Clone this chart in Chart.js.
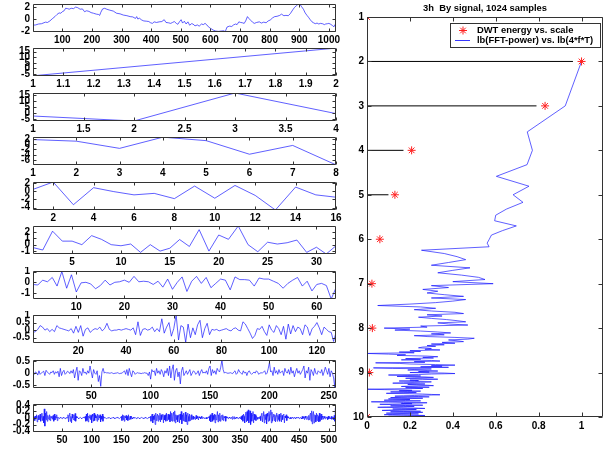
<!DOCTYPE html>
<html>
<head>
<meta charset="utf-8">
<script src="https://cdn.jsdelivr.net/npm/chart.js@4/dist/chart.umd.min.js"></script>
<style>
body { margin: 0; background: #fff; }
#fig { position: relative; width: 611px; height: 450px; overflow: hidden; }
#fig div { position: absolute; }
</style>
</head>
<body>
<div id="fig"></div>
<script>
// signal, 1024 samples (x, value)
let sig1 = [[1,-1.0],[10,-0.95],[20,-0.8],[30,-0.75],[43,-0.5],[50,-0.55],[58,-0.3],[66,0.05],[75,0.4],[82,0.75],
  [89,1.0],[95,0.95],[100,1.2],[106,1.35],[111,1.75],[118,1.7],[123,1.6],[130,1.75],[138,1.7],[145,1.95],
  [152,1.85],[160,1.6],[168,1.65],[175,1.2],[182,1.35],[190,1.25],[197,1.05],[205,0.95],[215,0.8],[222,0.75],
  [226,0.6],[230,1.1],[236,1.65],[243,1.75],[250,1.6],[260,1.45],[272,1.3],[283,0.95],[295,0.85],[306,0.65],
  [318,0.55],[329,0.4],[338,0.35],[347,0.1],[351,0.4],[355,0.0],[360,0.15],[368,-0.15],[375,-0.3],[385,-0.35],
  [392,-0.4],[398,-0.6],[404,-0.7],[410,-0.45],[418,-0.55],[427,-0.45],[436,-0.4],[444,-0.1],[450,-0.55],[458,-0.6],
  [466,-0.7],[472,-0.55],[478,-0.4],[485,-0.7],[490,-0.85],[496,-0.4],[501,-0.1],[506,-0.65],[512,-0.35],[518,-0.8],
  [524,-0.45],[530,-1.0],[536,-0.75],[541,-0.8],[548,-1.1],[556,-0.95],[562,-1.15],[570,-0.8],[576,-0.9],[582,-0.7],
  [588,-0.95],[593,-1.25],[600,-1.5],[610,-1.8],[618,-1.95],[627,-2.0],[636,-1.95],[645,-1.9],[650,-2.05],[656,-1.3],
  [664,-1.15],[672,-1.2],[678,-0.95],[685,-0.8],[690,-0.9],[696,-0.45],[702,-0.55],[708,-0.6],[714,-0.7],[719,-0.3],
  [725,0.4],[730,0.1],[736,-0.2],[742,-0.5],[748,-0.7],[756,-0.55],[765,-0.45],[772,-0.65],[780,-0.5],[788,-0.6],
  [795,-0.3],[802,-0.15],[810,0.2],[817,0.4],[825,0.45],[834,0.6],[840,0.8],[848,0.55],[855,0.6],[863,0.55],
  [870,0.9],[878,1.5],[884,1.9],[891,2.2],[897,2.45],[903,2.35],[908,2.0],[914,1.6],[920,1.0],[926,0.6],
  [931,0.3],[937,-0.1],[943,-0.45],[948,-0.6],[954,-0.75],[960,-0.65],[966,-0.8],[971,-0.7],[978,-0.75],[985,-0.9],
  [989,-0.8],[995,-0.75],[1000,-0.7],[1006,-0.85],[1012,-1.05],[1017,-1.25],[1021,-0.9],[1024,-1.3]];

// DWT coefficients per scale
let sig2 = [-6.6, 18.2];
let sig3 = [-2.3, -6.4, 16.7, -0.3];
let sig4 = [1.7, 1.1, -1.6, 2.6, 1.3, -3.8, -0.5, -7.8];
let sig5 = [0.48, 2.3, -3.3, 0.9, -0.07, -0.87, -0.5, -1.8, 1.3, -1.7, 1.45, -1.0, -4.6, 1.05, -0.87, -1.45];
let sig6 = [-0.45,-0.83,2.1,0.55,0.55,0.0,1.4,0.83,0.0,-0.17,0.1,-1.2,0.0,-1.0,-0.55,0.8,
  -0.28,2.33,-1.0,1.5,0.83,2.9,0.0,-1.1,0.38,0.1,0.3,0.72,-1.2,-0.4,-1.45,-0.17];
let sig7 = [-0.2,-0.25,0.2,0.05,0.45,-0.35,1.0,-0.55,0.7,-0.9,-0.05,0.0,-0.15,-0.6,-0.3,0.2,
  -0.25,0.0,0.05,0.2,0.0,0.55,0.05,0.1,0.05,-0.2,0.1,-0.45,0.3,-0.65,0.0,0.5,
  -0.85,0.1,0.55,-0.1,0.45,-0.5,-0.1,0.3,0.2,-0.7,0.5,0.25,0.25,0.2,-0.35,0.4,
  0.3,0.3,0.1,-0.1,-0.55,-0.1,0.2,0.45,-0.35,0.1,-0.8,-0.2,-0.1,-0.3,-1.55,-0.5];
let sig8 = [-0.15,-0.1,0.05,0.3,0.2,0.0,0.1,-0.1,0.05,-0.1,0.3,0.15,0.1,0.05,0.0,-0.05,
  0.1,-0.2,0.25,-0.15,0.3,-0.4,0.05,0.15,-0.15,0.0,0.1,0.05,0.2,-0.05,0.1,0.45,
  0.05,-0.05,0.0,0.0,0.05,0.0,0.05,0.1,0.05,0.0,0.15,-0.3,0.55,-0.35,0.05,0.1,
  0.0,0.05,0.2,-0.1,0.1,-0.1,0.75,-0.2,0.2,0.5,-0.4,0.1,1.0,-0.65,0.3,0.2,
  -0.8,0.4,-0.5,0.15,-0.3,0.35,0.65,-0.5,0.1,0.45,-0.3,0.05,0.0,0.05,-0.05,0.0,
  0.05,0.1,0.0,-0.05,0.1,0.15,0.0,-0.05,0.55,0.4,0.1,-0.2,-0.55,-0.35,0.1,0.05,
  0.25,-0.1,-0.35,0.35,0.0,-0.15,0.3,0.1,-0.3,0.25,-0.6,0.4,-0.25,0.3,-0.1,0.2,
  0.1,-0.3,0.35,0.2,-0.35,0.1,0.25,0.5,0.15,-0.3,0.2,0.05,-0.1,-0.15,-0.75,-0.15];
let sig9 = [0.0,-0.05,0.05,0.02,-0.08,0.1,-0.05,0.0,0.05,0.08,-0.1,0.12,0.05,0.0,-0.05,0.05,
  0.02,0.1,-0.05,0.06,0.0,0.08,-0.15,0.2,-0.1,0.05,0.12,-0.05,0.0,0.08,0.05,-0.02,
  0.1,0.0,0.15,-0.2,0.05,0.25,-0.3,0.1,0.05,-0.1,0.2,0.0,0.05,-0.05,0.1,0.0,
  0.3,0.05,-0.2,0.15,0.0,-0.05,0.1,-0.35,-0.1,-0.55,0.05,0.2,0.0,0.05,0.0,0.02,
  0.0,0.0,0.02,0.0,-0.02,0.0,0.0,0.02,0.0,-0.02,0.0,0.0,0.05,0.1,-0.05,0.15,
  -0.1,0.2,0.0,-0.15,0.1,0.05,-0.05,0.0,0.02,0.0,0.0,-0.02,0.0,0.0,0.02,0.0,
  0.0,-0.1,0.05,-0.25,0.15,0.05,0.1,-0.1,0.2,0.0,0.1,-0.05,0.15,0.05,-0.15,0.1,
  0.0,0.2,-0.1,0.3,-0.2,0.15,0.35,-0.3,0.1,0.2,-0.15,0.05,-0.45,0.1,0.25,-0.1,
  0.0,0.1,-0.05,0.05,0.15,-0.1,0.0,0.1,0.05,-0.05,0.0,0.1,-0.1,0.05,0.15,0.0,
  0.05,0.0,0.1,-0.05,0.2,0.3,-0.1,0.15,0.0,0.1,-0.05,0.2,0.1,0.05,0.25,0.55,
  0.15,0.0,0.05,0.0,0.0,0.0,0.02,0.0,-0.02,0.05,0.1,-0.05,0.0,0.15,0.05,0.0,
  -0.05,0.1,0.0,0.05,-0.1,0.05,0.1,0.0,-0.05,0.0,0.05,0.0,0.1,0.05,-0.05,0.0,
  0.02,0.0,0.05,0.1,-0.05,0.0,0.2,0.45,0.05,0.1,-0.1,0.25,0.0,0.1,-0.05,0.15,
  0.0,0.05,0.1,-0.1,0.2,0.05,0.0,0.15,-0.05,0.25,0.0,0.1,-0.15,0.05,0.2,0.0,
  0.1,-0.05,0.05,0.15,0.3,-0.2,0.1,0.0,0.25,-0.3,0.15,0.05,-0.1,0.2,0.0,-0.05,
  0.1,0.05,0.0,0.15,-0.1,0.05,0.25,0.1,-0.05,0.2,-0.15,0.1,0.0,-0.2,-0.6,0.5];
let sig10 = [0,-.05,.04,-.08,.06,0,.1,-.12,.05,.08,-.06,0,.12,-.1,.04,.15,-.08,.05,-.15,.28,-.25,.15,-.05,.2,-.1,.08,0,-.05,.1,-.08,.05,0,
  .06,-.04,.08,-.1,.12,-.06,.05,0,.1,-.08,.03,0,-.02,0,.02,0,0,-.02,0,.02,0,0,-.02,0,0,.02,0,.1,-.12,.08,.15,-.1,
  .05,-.15,.12,0,-.05,.1,-.08,.14,-.1,.05,0,.02,0,-.02,0,0,.02,0,-.02,0,0,.02,0,0,.05,-.1,.12,-.08,.15,-.12,.06,0,
  .1,-.05,.08,-.15,.12,.05,-.1,.15,-.08,.1,0,.05,-.1,.12,-.05,.08,0,.1,-.12,.06,-.04,.12,-.1,.05,0,.02,0,0,-.02,0,0,0,
  .02,0,0,-.02,0,0,0,.02,0,0,-.02,0,0,0,.02,0,0,0,-.02,0,0,.05,-.08,.1,-.05,.08,-.1,.06,0,.08,-.06,.05,
  -.08,.1,-.05,0,.06,-.04,.05,0,-.03,.02,0,0,.02,0,-.02,0,0,.02,0,0,-.02,0,0,.02,0,0,0,-.02,0,.02,0,0,
  0,-.02,0,.02,0,0,.05,-.1,.08,.12,-.15,.06,-.05,.1,-.2,.15,-.08,.05,.12,-.1,.08,-.05,.15,-.12,.1,-.05,.06,.12,-.15,.08,-.06,.1,
  -.1,.15,-.08,.05,.12,-.05,.1,-.12,.2,-.08,.15,-.1,.05,.18,-.1,.22,-.15,.1,-.05,.08,-.12,.06,.1,-.15,.12,-.05,.2,-.18,.1,-.08,.15,-.1,
  .05,.18,-.12,.1,-.2,.15,.05,-.1,.12,-.08,.05,.1,-.05,0,.06,-.04,.02,0,-.05,.08,-.03,.05,0,-.06,.04,0,.02,-.03,.05,0,-.02,0,
  .02,0,-.02,0,.02,-.03,0,.02,0,.05,-.08,.1,-.12,.06,.15,-.1,.08,-.05,.12,-.15,.1,-.06,.05,.2,-.12,.1,-.08,.15,-.1,.05,.08,-.05,
  .1,-.08,.05,0,.06,-.1,.04,0,.02,-.02,0,.03,0,-.02,0,.02,-.04,.05,0,-.03,.04,0,-.02,.03,0,0,-.02,0,.02,0,-.03,.05,
  -.05,.08,-.1,.12,.05,-.15,.1,.18,-.12,.2,-.08,.25,-.15,.1,.22,-.2,.15,-.1,.08,.2,-.15,.12,-.05,.1,-.08,.05,.02,-.04,0,.03,-.02,.05,
  -.08,.1,.15,-.12,.08,.2,-.15,.1,-.05,.12,-.18,.15,.05,-.1,.2,-.08,.12,.25,-.15,.18,-.1,.05,.12,-.08,.1,-.12,.06,.15,-.1,.08,-.05,.12,
  -.1,.05,.15,-.12,.08,-.05,.1,.12,-.15,.06,0,.1,-.08,.05,0,.03,-.02,0,.02,-.03,0,.02,0,-.02,0,.03,0,-.02,.02,0,0,.02,
  0,-.02,0,.02,0,-.03,.05,-.02,.04,0,-.05,.06,0,-.04,.05,.02,-.06,.08,-.05,.1,.15,-.1,.22,-.18,.12,.2,-.15,.1,.08,-.12,.15,-.08,
  .1,.05,-.12,.15,-.1,.08,.12,-.05,.06,.02,-.04,.05,0,-.03,.04,0,.02,-.05,.06,-.03,.04,0,-.02,.05,-.04,.03,.02,-.05,.08,-.1,.3,-.35];

// tick labels of the small panels
let xTicks = [
  [100,200,300,400,500,600,700,800,900,1000],
  [1,1.1,1.2,1.3,1.4,1.5,1.6,1.7,1.8,1.9,2],
  [1,1.5,2,2.5,3,3.5,4],
  [1,2,3,4,5,6,7,8],
  [2,4,6,8,10,12,14,16],
  [5,10,15,20,25,30],
  [10,20,30,40,50,60],
  [20,40,60,80,100,120],
  [50,100,150,200,250],
  [50,100,150,200,250,300,350,400,450,500]
];
let yTicks = [
  [-2,0,2], [-5,0,5,10,15], [-5,0,5,10,15], [-6,-4,-2,0,2], [-4,-2,0,2],
  [-1,0,1,2], [-1,0,1], [-0.5,0,0.5,1], [-0.5,0,0.5], [-0.4,-0.2,0,0.2,0.4]
];
let yLims = [
  [-2.1,2.45], [-6.8,18.3], [-6.4,16.7], [-7.85,2.67], [-4.6,2.3],
  [-1.45,2.9], [-1.55,1.05], [-0.85,1.0], [-0.62,0.55], [-0.43,0.43]
];

// right panel: DWT energy per scale and FFT power per frequency bin
let dwtEnergy = [0, 1, 0.83, 0.208, 0.13, 0.06, 0.023, 0.025, 0.011, 0];
let stemLen = [0, 0.96, 0.79, 0.17, 0.1, 0, 0, 0, 0, 0];
let fftPower = [1.00,0.924,0.747,0.771,0.746,0.603,0.755,0.681,0.727,0.65,0.60,0.595,0.696,0.631,0.58,0.57,
  0.56,0.569,0.254,0.36,0.42,0.46,0.38,0.30,0.48,0.40,0.33,0.44,0.52,0.55,0.40,0.588,
  0.30,0.38,0.26,0.33,0.28,0.36,0.45,0.30,0.46,0.40,0.32,0.20,0.05,0.25,0.32,0.22,
  0.30,0.41,0.45,0.28,0.35,0.24,0.30,0.37,0.42,0.46,0.33,0.38,0.47,0.25,0.28,0.08,
  0.20,0.13,0.25,0.33,0.39,0.30,0.36,0.22,0.28,0.41,0.50,0.47,0.38,0.42,0.45,0.35,
  0.41,0.30,0.36,0.28,0.32,0.26,0.24,0.30,0.27,0.34,0.20,0.25,0.15,0.22,0.00,0.10,
  0.18,0.14,0.28,0.33,0.26,0.31,0.18,0.25,0.16,0.30,0.34,0.22,0.27,0.04,0.15,0.20,
  0.32,0.41,0.30,0.35,0.25,0.38,0.03,0.12,0.30,0.22,0.19,0.28,0.33,0.24,0.29,0.20,
  0.36,0.41,0.30,0.24,0.10,0.19,0.25,0.14,0.27,0.31,0.22,0.18,0.28,0.33,0.26,0.20,
  0.24,0.15,0.22,0.30,0.25,0.17,0.12,0.21,0.27,0.19,0.23,0.28,0.31,0.20,0.16,0.24,
  0.29,0.18,0.22,0.26,0.13,0.00,0.08,0.18,0.21,0.15,0.25,0.19,0.11,0.17,0.23,0.14,
  0.09,0.20,0.26,0.30,0.34,0.28,0.22,0.17,0.13,0.24,0.29,0.19,0.11,0.16,0.26,0.21,
  0.10,0.15,0.20,0.12,0.08,0.18,0.25,0.20,0.14,0.02,0.10,0.17,0.28,0.23,0.16,0.21,
  0.13,0.06,0.12,0.20,0.26,0.18,0.11,0.15,0.22,0.17,0.09,0.05,0.13,0.19,0.24,0.27,
  0.16,0.12,0.18,0.23,0.14,0.10,0.07,0.15,0.21,0.25,0.17,0.11,0.19,0.26,0.22,0.15,
  0.09,0.14,0.20,0.24,0.16,0.12,0.08,0.17,0.22,0.27,0.19,0.14,0.10,0.18,0.23,0.27];
let xTicksR = [0, 0.2, 0.4, 0.6, 0.8, 1];
let scaleTicks = [1, 2, 3, 4, 5, 6, 7, 8, 9, 10];

let tickFont = { family: 'Liberation Sans', size: 10, weight: 'bold' };
let lineBlue = 'rgba(20,20,255,0.85)';
let fig = document.getElementById('fig');

function fmt(v) {
  return String(Math.round(v * 100) / 100);
}

// box round the plot area with inward ticks on all four sides
function framePlugin(len) {
  return {
    id: 'frame',
    afterDraw(chart) {
      let ctx = chart.ctx, a = chart.chartArea;
      let sx = chart.scales.x, sy = chart.scales.y;
      let l = Math.round(a.left) + 0.5, r = Math.round(a.right) - 0.5;
      let t = Math.round(a.top) + 0.5, b = Math.round(a.bottom) - 0.5;
      ctx.save();
      ctx.strokeStyle = '#333';
      ctx.lineWidth = 1;
      ctx.beginPath();
      ctx.rect(l, t, r - l, b - t);
      sx.ticks.forEach(tk => {
        let px = Math.round(sx.getPixelForValue(tk.value)) + 0.5;
        ctx.moveTo(px, b); ctx.lineTo(px, b - len);
        ctx.moveTo(px, t); ctx.lineTo(px, t + len);
      });
      sy.ticks.forEach(tk => {
        let py = Math.round(sy.getPixelForValue(tk.value)) + 0.5;
        ctx.moveTo(l, py); ctx.lineTo(l + len, py);
        ctx.moveTo(r, py); ctx.lineTo(r - len, py);
      });
      ctx.stroke();
      ctx.restore();
    }
  };
}

function addCanvas(left, top, w, h) {
  let box = document.createElement('div');
  box.style.left = left + 'px';
  box.style.top = top + 'px';
  let cv = document.createElement('canvas');
  cv.width = w;
  cv.height = h;
  box.appendChild(cv);
  fig.appendChild(box);
  return cv;
}

// left column
let signals = [sig1, sig2, sig3, sig4, sig5, sig6, sig7, sig8, sig9, sig10];
signals.forEach((sig, i) => {
  let pts, xMax;
  if (i === 0) {
    pts = sig.map(p => ({ x: p[0], y: p[1] }));
    xMax = 1024;
  } else {
    pts = sig.map((v, k) => ({ x: k + 1, y: v }));
    xMax = sig.length;
  }
  let cv = addCanvas(0, Math.round(i * 44.45), 345, 44);
  new Chart(cv, {
    type: 'line',
    data: {
      datasets: [{
        data: pts,
        borderColor: lineBlue,
        borderWidth: 0.8,
        pointRadius: 0,
        tension: 0,
        fill: false
      }]
    },
    options: {
      responsive: false,
      animation: false,
      devicePixelRatio: 1,
      layout: { padding: { top: 4, right: 9, left: 0, bottom: 0 } },
      plugins: { legend: { display: false }, tooltip: { enabled: false } },
      scales: {
        x: {
          type: 'linear', min: 1, max: xMax, bounds: 'data',
          grid: { display: false, drawTicks: false },
          border: { display: false },
          afterBuildTicks: s => { s.ticks = xTicks[i].map(v => ({ value: v })); },
          afterFit: s => { s.height = 12; s.paddingLeft = 0; s.paddingRight = 0; },
          ticks: { autoSkip: false, maxRotation: 0, padding: 2, color: '#000', font: tickFont, callback: fmt }
        },
        y: {
          type: 'linear', min: yLims[i][0], max: yLims[i][1], bounds: 'data',
          grid: { display: false, drawTicks: false },
          border: { display: false },
          afterBuildTicks: s => { s.ticks = yTicks[i].map(v => ({ value: v })); },
          afterFit: s => { s.width = 33; s.paddingTop = 0; s.paddingBottom = 0; },
          ticks: { autoSkip: false, padding: 3, color: '#000', font: tickFont, callback: fmt }
        }
      }
    },
    plugins: [framePlugin(3)]
  });
});

// right panel
let stems = [];
stemLen.forEach((len, i) => {
  if (len > 0) {
    stems.push({
      data: [{ x: 0, y: 2 ** (i + 1) }, { x: len, y: 2 ** (i + 1) }],
      borderColor: '#000',
      borderWidth: 1,
      pointRadius: 0
    });
  }
});
let stars = {
  data: dwtEnergy.map((e, i) => ({ x: e, y: 2 ** (i + 1) })),
  showLine: false,
  pointStyle: 'star',
  pointRadius: 4,
  pointBorderColor: '#ff2020',
  pointBorderWidth: 1
};
let fftLine = {
  data: fftPower.map((p, k) => ({ x: p, y: 4 * (k + 1) })),
  borderColor: lineBlue,
  borderWidth: 0.8,
  pointRadius: 0,
  tension: 0
};

let titleAndLegend = {
  id: 'titleAndLegend',
  afterDraw(chart) {
    let ctx = chart.ctx, a = chart.chartArea;
    ctx.save();
    ctx.fillStyle = '#000';
    ctx.font = 'bold 9.4px "Liberation Sans"';
    ctx.textAlign = 'center';
    ctx.textBaseline = 'middle';
    ctx.fillText('3h  By signal, 1024 samples', (a.left + a.right) / 2, 8);

    // legend box
    ctx.fillStyle = '#fff';
    ctx.fillRect(110.5, 23.5, 150, 24);
    ctx.strokeStyle = '#333';
    ctx.lineWidth = 1;
    ctx.strokeRect(110.5, 23.5, 150, 24);
    ctx.strokeStyle = '#ff2020';
    ctx.beginPath();
    let cx = 123, cy = 30.5, r = 4;
    ctx.moveTo(cx - r, cy); ctx.lineTo(cx + r, cy);
    ctx.moveTo(cx, cy - r); ctx.lineTo(cx, cy + r);
    ctx.moveTo(cx - 2.8, cy - 2.8); ctx.lineTo(cx + 2.8, cy + 2.8);
    ctx.moveTo(cx - 2.8, cy + 2.8); ctx.lineTo(cx + 2.8, cy - 2.8);
    ctx.stroke();
    ctx.strokeStyle = lineBlue;
    ctx.beginPath();
    ctx.moveTo(115, 40.5); ctx.lineTo(130, 40.5);
    ctx.stroke();
    ctx.fillStyle = '#000';
    ctx.textAlign = 'left';
    ctx.fillText('DWT energy vs. scale', 137, 30.5);
    ctx.fillText('lb(FFT-power) vs. lb(4*f*T)', 137, 40.5);
    ctx.restore();
  }
};

let cvR = addCanvas(340, 0, 271, 450);
new Chart(cvR, {
  type: 'line',
  data: { datasets: stems.concat([stars, fftLine]) },
  options: {
    responsive: false,
    animation: false,
    devicePixelRatio: 1,
    layout: { padding: { top: 17, right: 8, left: 0, bottom: 0 } },
    plugins: { legend: { display: false }, tooltip: { enabled: false } },
    scales: {
      x: {
        type: 'linear', min: 0, max: 1.1, bounds: 'data',
        grid: { display: false, drawTicks: false },
        border: { display: false },
        afterBuildTicks: s => { s.ticks = xTicksR.map(v => ({ value: v })); },
        afterFit: s => { s.height = 33; s.paddingLeft = 0; s.paddingRight = 0; },
        ticks: { autoSkip: false, maxRotation: 0, padding: 3, color: '#000', font: tickFont, callback: fmt }
      },
      y: {
        type: 'logarithmic', min: 2, max: 1024, reverse: true,
        grid: { display: false, drawTicks: false },
        border: { display: false },
        afterBuildTicks: s => { s.ticks = scaleTicks.map(n => ({ value: 2 ** n })); },
        afterFit: s => { s.width = 27; s.paddingTop = 0; s.paddingBottom = 0; },
        ticks: { autoSkip: false, padding: 3, color: '#000', font: tickFont, callback: v => String(Math.round(Math.log2(v))) }
      }
    }
  },
  plugins: [framePlugin(4), titleAndLegend]
});
</script>
</body>
</html>
